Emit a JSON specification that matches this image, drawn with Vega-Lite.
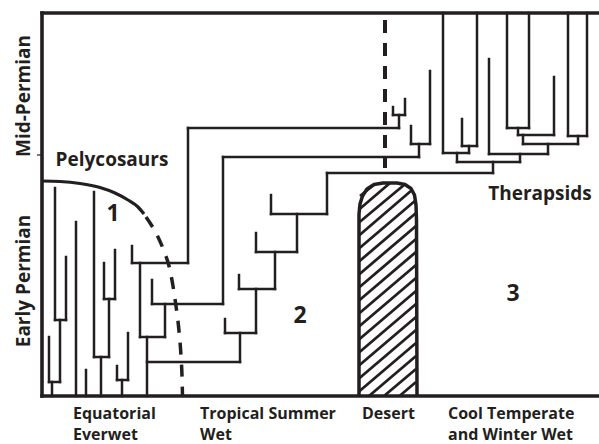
{
  "$schema": "https://vega.github.io/schema/vega-lite/v6.json",
  "width": 599,
  "height": 444,
  "padding": 0,
  "autosize": {"type": "none"},
  "background": "white",
  "config": {"view": {"stroke": null}},
  "datasets": {
    "frame": [
      {"x": 42, "y": 13, "x2": 599, "y2": 13},
      {"x": 42, "y": 13, "x2": 42, "y2": 396},
      {"x": 42, "y": 396, "x2": 599, "y2": 396}
    ],
    "ticks": [
      {"x": 37, "y": 155, "x2": 42, "y2": 155}
    ],
    "tree": [
      {"x": 55, "y": 188, "x2": 55, "y2": 320},
      {"x": 66, "y": 257, "x2": 66, "y2": 320},
      {"x": 55, "y": 320, "x2": 66, "y2": 320},
      {"x": 60, "y": 320, "x2": 60, "y2": 382},
      {"x": 49, "y": 337, "x2": 49, "y2": 382},
      {"x": 49, "y": 382, "x2": 60, "y2": 382},
      {"x": 52, "y": 382, "x2": 52, "y2": 396},
      {"x": 76, "y": 222, "x2": 76, "y2": 396},
      {"x": 86, "y": 370, "x2": 86, "y2": 396},
      {"x": 94, "y": 192, "x2": 94, "y2": 357},
      {"x": 94, "y": 357, "x2": 109, "y2": 357},
      {"x": 109, "y": 299, "x2": 109, "y2": 357},
      {"x": 104, "y": 299, "x2": 115, "y2": 299},
      {"x": 104, "y": 263, "x2": 104, "y2": 299},
      {"x": 115, "y": 250, "x2": 115, "y2": 299},
      {"x": 101, "y": 357, "x2": 101, "y2": 396},
      {"x": 117, "y": 366, "x2": 117, "y2": 380},
      {"x": 128, "y": 333, "x2": 128, "y2": 380},
      {"x": 117, "y": 380, "x2": 128, "y2": 380},
      {"x": 122, "y": 380, "x2": 122, "y2": 396},
      {"x": 147, "y": 337, "x2": 147, "y2": 396},
      {"x": 140, "y": 337, "x2": 165, "y2": 337},
      {"x": 140, "y": 263, "x2": 140, "y2": 337},
      {"x": 165, "y": 304, "x2": 165, "y2": 337},
      {"x": 132, "y": 263, "x2": 188, "y2": 263},
      {"x": 132, "y": 246, "x2": 132, "y2": 263},
      {"x": 188, "y": 128, "x2": 188, "y2": 263},
      {"x": 188, "y": 128, "x2": 399, "y2": 128},
      {"x": 399, "y": 115, "x2": 399, "y2": 128},
      {"x": 393, "y": 115, "x2": 405, "y2": 115},
      {"x": 393, "y": 107, "x2": 393, "y2": 115},
      {"x": 405, "y": 99, "x2": 405, "y2": 115},
      {"x": 152, "y": 304, "x2": 223, "y2": 304},
      {"x": 152, "y": 280, "x2": 152, "y2": 304},
      {"x": 223, "y": 157, "x2": 223, "y2": 304},
      {"x": 223, "y": 157, "x2": 419, "y2": 157},
      {"x": 419, "y": 144, "x2": 419, "y2": 157},
      {"x": 411, "y": 144, "x2": 430, "y2": 144},
      {"x": 411, "y": 126, "x2": 411, "y2": 144},
      {"x": 430, "y": 71, "x2": 430, "y2": 144},
      {"x": 147, "y": 362, "x2": 240, "y2": 362},
      {"x": 240, "y": 333, "x2": 240, "y2": 362},
      {"x": 225, "y": 333, "x2": 256, "y2": 333},
      {"x": 225, "y": 319, "x2": 225, "y2": 333},
      {"x": 256, "y": 289, "x2": 256, "y2": 333},
      {"x": 239, "y": 289, "x2": 275, "y2": 289},
      {"x": 239, "y": 275, "x2": 239, "y2": 289},
      {"x": 275, "y": 252, "x2": 275, "y2": 289},
      {"x": 256, "y": 252, "x2": 297, "y2": 252},
      {"x": 256, "y": 233, "x2": 256, "y2": 252},
      {"x": 297, "y": 214, "x2": 297, "y2": 252},
      {"x": 271, "y": 214, "x2": 327, "y2": 214},
      {"x": 271, "y": 195, "x2": 271, "y2": 214},
      {"x": 327, "y": 173, "x2": 327, "y2": 214},
      {"x": 327, "y": 173, "x2": 493, "y2": 173},
      {"x": 493, "y": 162, "x2": 493, "y2": 173},
      {"x": 457, "y": 162, "x2": 520, "y2": 162},
      {"x": 457, "y": 153, "x2": 457, "y2": 162},
      {"x": 443, "y": 153, "x2": 469, "y2": 153},
      {"x": 443, "y": 13, "x2": 443, "y2": 153},
      {"x": 469, "y": 146, "x2": 469, "y2": 153},
      {"x": 462, "y": 146, "x2": 477, "y2": 146},
      {"x": 462, "y": 119, "x2": 462, "y2": 146},
      {"x": 477, "y": 13, "x2": 477, "y2": 146},
      {"x": 520, "y": 154, "x2": 520, "y2": 162},
      {"x": 489, "y": 154, "x2": 548, "y2": 154},
      {"x": 489, "y": 59, "x2": 489, "y2": 154},
      {"x": 548, "y": 144, "x2": 548, "y2": 154},
      {"x": 523, "y": 144, "x2": 578, "y2": 144},
      {"x": 523, "y": 135, "x2": 523, "y2": 144},
      {"x": 518, "y": 135, "x2": 554, "y2": 135},
      {"x": 554, "y": 77, "x2": 554, "y2": 135},
      {"x": 518, "y": 128, "x2": 518, "y2": 135},
      {"x": 507, "y": 128, "x2": 529, "y2": 128},
      {"x": 507, "y": 13, "x2": 507, "y2": 128},
      {"x": 529, "y": 13, "x2": 529, "y2": 128},
      {"x": 578, "y": 136, "x2": 578, "y2": 144},
      {"x": 568, "y": 136, "x2": 587, "y2": 136},
      {"x": 568, "y": 13, "x2": 568, "y2": 136},
      {"x": 587, "y": 13, "x2": 587, "y2": 136}
    ],
    "pelySolid": [
      {"o": 0, "x": 42, "y": 181},
      {"o": 1, "x": 60, "y": 181.5},
      {"o": 2, "x": 80, "y": 183.5},
      {"o": 3, "x": 100, "y": 187.5},
      {"o": 4, "x": 115, "y": 193},
      {"o": 5, "x": 128, "y": 200},
      {"o": 6, "x": 138, "y": 207},
      {"o": 7, "x": 144, "y": 214}
    ],
    "pelyDash": [
      {"o": 0, "x": 146, "y": 217},
      {"o": 1, "x": 152, "y": 226},
      {"o": 2, "x": 158, "y": 237},
      {"o": 3, "x": 164, "y": 251},
      {"o": 4, "x": 169, "y": 266},
      {"o": 5, "x": 173, "y": 286},
      {"o": 6, "x": 176, "y": 306},
      {"o": 7, "x": 179, "y": 331},
      {"o": 8, "x": 181, "y": 356},
      {"o": 9, "x": 182, "y": 376},
      {"o": 10, "x": 182.5, "y": 396}
    ],
    "divide": [
      {"x": 385, "y": 20, "x2": 385, "y2": 168}
    ],
    "desertEdge": [
      {"o": 0, "x": 359, "y": 396},
      {"o": 1, "x": 359, "y": 214},
      {"o": 2, "x": 360, "y": 204},
      {"o": 3, "x": 362.5, "y": 196},
      {"o": 4, "x": 367, "y": 189},
      {"o": 5, "x": 374, "y": 184.5},
      {"o": 6, "x": 383, "y": 183},
      {"o": 7, "x": 397, "y": 183},
      {"o": 8, "x": 405, "y": 184.5},
      {"o": 9, "x": 411, "y": 188.5},
      {"o": 10, "x": 414.5, "y": 195},
      {"o": 11, "x": 416, "y": 205},
      {"o": 12, "x": 416.5, "y": 220},
      {"o": 13, "x": 417, "y": 396}
    ],
    "hatch": [
      {"x": 360, "y": 196, "x2": 375, "y2": 184},
      {"x": 359, "y": 209.5, "x2": 390, "y2": 183},
      {"x": 359, "y": 222.5, "x2": 404, "y2": 185},
      {"x": 359, "y": 235.5, "x2": 412, "y2": 190},
      {"x": 359, "y": 248.5, "x2": 416, "y2": 200},
      {"x": 359, "y": 261.5, "x2": 416, "y2": 213},
      {"x": 359, "y": 274.5, "x2": 416, "y2": 226},
      {"x": 359, "y": 287.5, "x2": 416, "y2": 239},
      {"x": 359, "y": 300.5, "x2": 416, "y2": 252},
      {"x": 359, "y": 313.5, "x2": 416, "y2": 265},
      {"x": 359, "y": 326.5, "x2": 416, "y2": 278},
      {"x": 359, "y": 339.5, "x2": 416, "y2": 291},
      {"x": 359, "y": 352.5, "x2": 416, "y2": 304},
      {"x": 359, "y": 365.5, "x2": 416, "y2": 317},
      {"x": 359, "y": 378.5, "x2": 416, "y2": 330},
      {"x": 359, "y": 391.5, "x2": 416, "y2": 343},
      {"x": 369, "y": 396, "x2": 416, "y2": 356},
      {"x": 384, "y": 396, "x2": 416, "y2": 369},
      {"x": 399.5, "y": 396, "x2": 416, "y2": 382}
    ],
    "periods": [
      {"label": "Mid-Permian", "x": 30, "y": 96},
      {"label": "Early Permian", "x": 30, "y": 281}
    ],
    "clades": [
      {"label": "Pelycosaurs", "x": 112, "y": 166},
      {"label": "Therapsids", "x": 540, "y": 200}
    ],
    "zones": [
      {"label": "1", "x": 113, "y": 221},
      {"label": "2", "x": 300, "y": 323},
      {"label": "3", "x": 513, "y": 301}
    ],
    "belts": [
      {"label": "Equatorial", "x": 73, "y": 419},
      {"label": "Everwet", "x": 73, "y": 440},
      {"label": "Tropical Summer", "x": 200, "y": 419},
      {"label": "Wet", "x": 200, "y": 440},
      {"label": "Desert", "x": 362, "y": 419},
      {"label": "Cool Temperate", "x": 448, "y": 419},
      {"label": "and Winter Wet", "x": 448, "y": 440}
    ]
  },
  "encoding": {
    "x": {"field": "x", "type": "quantitative", "axis": null, "scale": {"domain": [0, 599], "nice": false, "zero": false}},
    "y": {"field": "y", "type": "quantitative", "axis": null, "scale": {"domain": [0, 444], "nice": false, "zero": false, "reverse": true}}
  },
  "layer": [
    {
      "data": {"name": "hatch"},
      "mark": {"type": "rule", "color": "#231f20", "strokeWidth": 2.8, "strokeCap": "butt"},
      "encoding": {"x2": {"field": "x2"}, "y2": {"field": "y2"}}
    },
    {
      "data": {"name": "desertEdge"},
      "mark": {"type": "line", "color": "#231f20", "strokeWidth": 3.5, "interpolate": "linear", "strokeJoin": "round"},
      "encoding": {"order": {"field": "o", "type": "quantitative"}}
    },
    {
      "data": {"name": "tree"},
      "mark": {"type": "rule", "color": "#231f20", "strokeWidth": 2.5, "strokeCap": "square"},
      "encoding": {"x2": {"field": "x2"}, "y2": {"field": "y2"}}
    },
    {
      "data": {"name": "frame"},
      "mark": {"type": "rule", "color": "#231f20", "strokeWidth": 3.6, "strokeCap": "square"},
      "encoding": {"x2": {"field": "x2"}, "y2": {"field": "y2"}}
    },
    {
      "data": {"name": "ticks"},
      "mark": {"type": "rule", "color": "#231f20", "strokeWidth": 1.2},
      "encoding": {"x2": {"field": "x2"}, "y2": {"field": "y2"}}
    },
    {
      "data": {"name": "divide"},
      "mark": {"type": "rule", "color": "#231f20", "strokeWidth": 4, "strokeDash": [13, 10]},
      "encoding": {"x2": {"field": "x2"}, "y2": {"field": "y2"}}
    },
    {
      "data": {"name": "pelySolid"},
      "mark": {"type": "line", "color": "#231f20", "strokeWidth": 3.2, "interpolate": "monotone"},
      "encoding": {"order": {"field": "o", "type": "quantitative"}}
    },
    {
      "data": {"name": "pelyDash"},
      "mark": {"type": "line", "color": "#231f20", "strokeWidth": 3.5, "interpolate": "monotone", "strokeDash": [12, 10]},
      "encoding": {"order": {"field": "o", "type": "quantitative"}}
    },
    {
      "data": {"name": "periods"},
      "mark": {"type": "text", "angle": 270, "align": "center", "baseline": "alphabetic", "font": "Open Sans", "fontWeight": "bold", "fontSize": 19, "color": "#231f20"},
      "encoding": {"text": {"field": "label"}}
    },
    {
      "data": {"name": "clades"},
      "mark": {"type": "text", "align": "center", "baseline": "alphabetic", "font": "Open Sans", "fontWeight": "bold", "fontSize": 19, "color": "#231f20"},
      "encoding": {"text": {"field": "label"}}
    },
    {
      "data": {"name": "zones"},
      "mark": {"type": "text", "align": "center", "baseline": "alphabetic", "font": "Open Sans", "fontWeight": "bold", "fontSize": 23, "color": "#231f20"},
      "encoding": {"text": {"field": "label"}}
    },
    {
      "data": {"name": "belts"},
      "mark": {"type": "text", "align": "left", "baseline": "alphabetic", "font": "Open Sans", "fontWeight": "bold", "fontSize": 16, "color": "#231f20"},
      "encoding": {"text": {"field": "label"}}
    }
  ]
}
